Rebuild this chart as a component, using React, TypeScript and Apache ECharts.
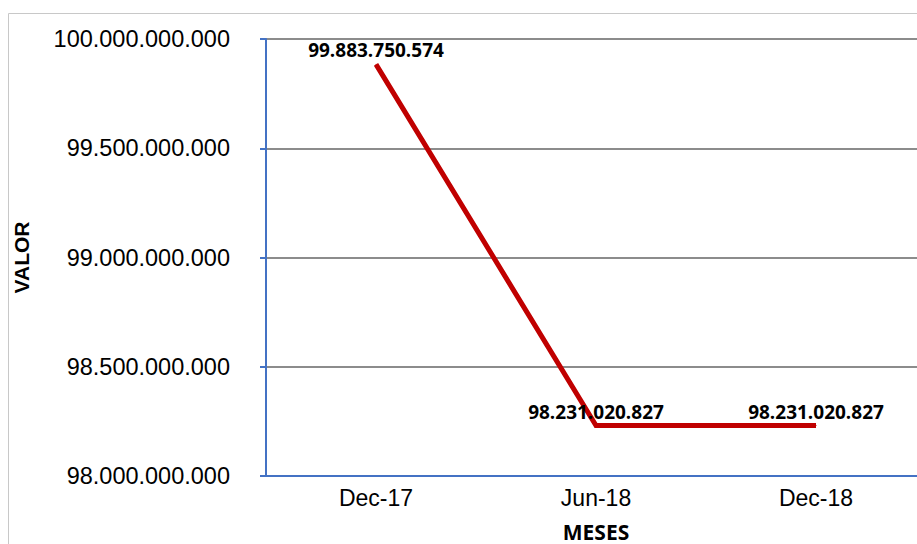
import React, { useEffect, useRef } from "react";
import * as echarts from "echarts";

const categories = ["Dec-17", "Jun-18", "Dec-18"];
const values = [99883750574, 98231020827, 98231020827];
const yMin = 98000000000;
const yMax = 100000000000;
const yInterval = 500000000;

const fmt = (v: number) => Math.round(v).toString().replace(/\B(?=(\d{3})+(?!\d))/g, ".");

export default function App() {
  const ref = useRef<HTMLDivElement>(null);
  useEffect(() => {
    const chart = echarts.init(ref.current!, null, { renderer: "svg" });
    chart.setOption({
      animation: false,
      backgroundColor: "#ffffff",
      graphic: [
        {
          type: "rect",
          shape: { x: 8.5, y: 13.5, width: 940, height: 560 },
          style: { fill: "none", stroke: "#c8c8c8", lineWidth: 1 },
          silent: true,
        },
      ],
      grid: {
        left: 266,
        top: 39,
        width: 660,
        bottom: 68,
        outerBoundsMode: "none",
        containLabel: false,
        show: true,
        borderColor: "#4472C4",
        borderWidth: 2,
        backgroundColor: "transparent",
      },
      xAxis: {
        type: "category",
        data: categories,
        boundaryGap: true,
        name: "MESES",
        nameLocation: "middle",
        nameGap: 45,
        nameTextStyle: { fontFamily: "Open Sans", fontWeight: "bold", fontSize: 21, color: "#000" },
        axisLine: { show: true, lineStyle: { color: "#4472C4", width: 2 } },
        axisTick: { show: false },
        axisLabel: { fontFamily: "Liberation Sans", fontSize: 23, color: "#000", margin: 10 },
        splitLine: { show: false },
      },
      yAxis: {
        type: "value",
        min: yMin,
        max: yMax,
        interval: yInterval,
        name: "VALOR",
        nameLocation: "middle",
        nameGap: 234,
        nameRotate: 90,
        nameTextStyle: { fontFamily: "Liberation Sans", fontWeight: "bold", fontSize: 21, color: "#000" },
        axisLine: { show: true, lineStyle: { color: "#4472C4", width: 2 } },
        axisTick: { show: true, length: 6, lineStyle: { color: "#4472C4", width: 2 } },
        axisLabel: {
          fontFamily: "Liberation Sans",
          fontSize: 23.5,
          color: "#000",
          margin: 36,
          formatter: (v: number) => fmt(v),
        },
        splitLine: { show: true, lineStyle: { color: "#8c8c8c", width: 2 } },
      },
      series: [
        {
          type: "line",
          data: values,
          symbol: "circle",
          symbolSize: 1,
          showSymbol: true,
          itemStyle: { color: "#C00000" },
          lineStyle: { color: "#C00000", width: 5, cap: "butt", join: "miter" },
          label: {
            show: true,
            position: "top",
            distance: 4,
            fontFamily: "Open Sans",
            fontWeight: "bold",
            fontSize: 19,
            color: "#000",
            formatter: (p: any) => fmt(p.value),
          },
          labelLayout: { hideOverlap: false },
        },
      ],
    });
    return () => chart.dispose();
  }, []);
  return (
    <div
      ref={ref}
      style={{ position: "fixed", left: 0, top: 0, width: 917, height: 544 }}
    />
  );
}
